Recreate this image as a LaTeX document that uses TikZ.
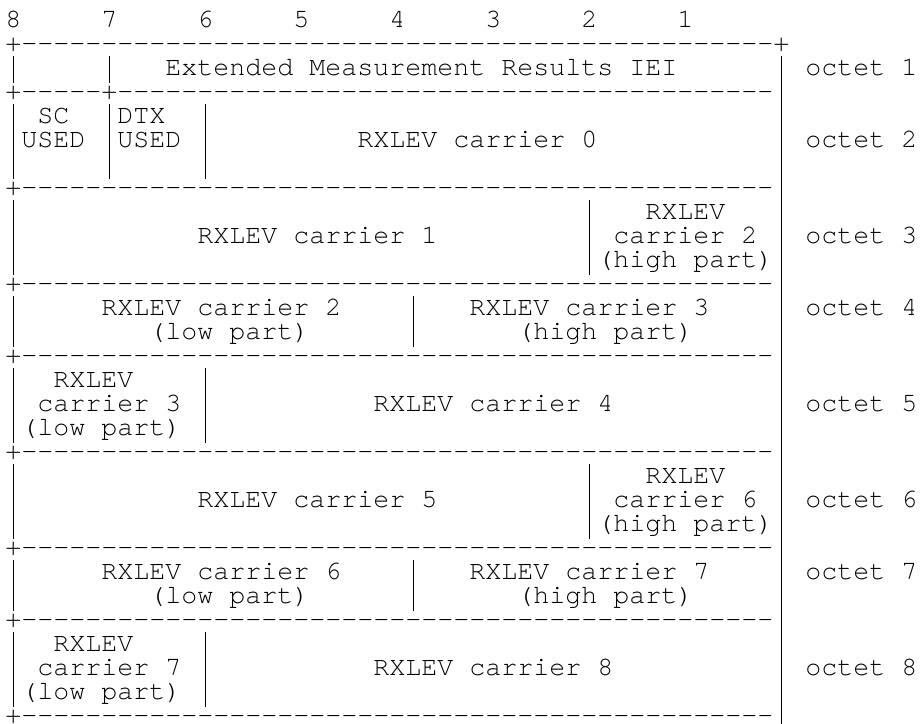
\documentclass[tikz,border=0pt]{standalone}
\usepackage{fontspec}
\setmonofont{texgyrecursor-regular.otf}
\newcommand\dashrun[1]{\ifnum#1>0 -\expandafter\dashrun\expandafter{\the\numexpr#1-1\relax}\fi}
\ExplSyntaxOn
% fixed pitch: every character in a 12pt (16px) cell
\cs_new_protected:Npn \pitchtext #1
  {
    \str_set:Nx \l_tmpa_str {#1}
    \str_map_inline:Nn \l_tmpa_str { \makebox[12pt][c]{##1} }
  }
\ExplSyntaxOff
% text placed on the character grid: name, column, row, text
\newcommand\atcell[4]{\node[asc] (#1) at ({5.3+16*#2},{27.9+24*#3}) {\pitchtext{#4}};}
% vertical wall: column, first row, last row
\newcommand\vwall[3]{\draw[wall] ({13.3+16*#1},{27.9+24*#2-20.3}) -- ({13.3+16*#1},{27.9+24*#3+7});}
\begin{document}
\begin{tikzpicture}[x=0.75pt,y=-0.75pt,
  asc/.style={anchor=base west, inner sep=0pt, outer sep=0pt,
    text height=11pt, text depth=0.5pt,
    font=\ttfamily\fontsize{20}{24}\selectfont, text=black},
  wall/.style={line width=0.8pt, draw=black}]
\fill[white] (0,0) rectangle (922,724);
\useasboundingbox (0,0) rectangle (922,724);
% bit numbers
\atcell{b8}{0}{0}{8}
\atcell{b7}{6}{0}{7}
\atcell{b6}{12}{0}{6}
\atcell{b5}{18}{0}{5}
\atcell{b4}{24}{0}{4}
\atcell{b3}{30}{0}{3}
\atcell{b2}{36}{0}{2}
\atcell{b1}{42}{0}{1}
% separators
\atcell{s1}{0}{1}{+\dashrun{47}+}
\atcell{s3}{0}{3}{+\dashrun{5}+\dashrun{41}}
\atcell{s7}{0}{7}{+\dashrun{47}}
\atcell{s11}{0}{11}{+\dashrun{47}}
\atcell{s14}{0}{14}{+\dashrun{47}}
\atcell{s18}{0}{18}{+\dashrun{47}}
\atcell{s22}{0}{22}{+\dashrun{47}}
\atcell{s25}{0}{25}{+\dashrun{47}}
\atcell{s29}{0}{29}{+\dashrun{47}}
% octet 1
\atcell{iei}{10}{2}{Extended Measurement Results IEI}
\atcell{o1}{50}{2}{octet 1}
% octet 2
\atcell{sc}{2}{4}{SC}
\atcell{scu}{1}{5}{USED}
\atcell{dtx}{7}{4}{DTX}
\atcell{dtxu}{7}{5}{USED}
\atcell{c0}{22}{5}{RXLEV carrier 0}
\atcell{o2}{50}{5}{octet 2}
% octet 3
\atcell{c1}{12}{9}{RXLEV carrier 1}
\atcell{c2ha}{40}{8}{RXLEV}
\atcell{c2hb}{38}{9}{carrier 2}
\atcell{c2hc}{37}{10}{(high part)}
\atcell{o3}{50}{9}{octet 3}
% octet 4
\atcell{c2la}{6}{12}{RXLEV carrier 2}
\atcell{c2lb}{9}{13}{(low part)}
\atcell{c3ha}{29}{12}{RXLEV carrier 3}
\atcell{c3hb}{32}{13}{(high part)}
\atcell{o4}{50}{12}{octet 4}
% octet 5
\atcell{c3la}{3}{15}{RXLEV}
\atcell{c3lb}{2}{16}{carrier 3}
\atcell{c3lc}{1}{17}{(low part)}
\atcell{c4}{23}{16}{RXLEV carrier 4}
\atcell{o5}{50}{16}{octet 5}
% octet 6
\atcell{c5}{12}{20}{RXLEV carrier 5}
\atcell{c6ha}{40}{19}{RXLEV}
\atcell{c6hb}{38}{20}{carrier 6}
\atcell{c6hc}{37}{21}{(high part)}
\atcell{o6}{50}{20}{octet 6}
% octet 7
\atcell{c6la}{6}{23}{RXLEV carrier 6}
\atcell{c6lb}{9}{24}{(low part)}
\atcell{c7ha}{29}{23}{RXLEV carrier 7}
\atcell{c7hb}{32}{24}{(high part)}
\atcell{o7}{50}{23}{octet 7}
% octet 8
\atcell{c7la}{3}{26}{RXLEV}
\atcell{c7lb}{2}{27}{carrier 7}
\atcell{c7lc}{1}{28}{(low part)}
\atcell{c8}{23}{27}{RXLEV carrier 8}
\atcell{o8}{50}{27}{octet 8}
% vertical walls
\vwall{0}{2}{2}
\vwall{6}{2}{2}
\vwall{0}{4}{6}
\vwall{6}{4}{6}
\vwall{12}{4}{6}
\vwall{0}{8}{10}
\vwall{36}{8}{10}
\vwall{0}{12}{13}
\vwall{25}{12}{13}
\vwall{0}{15}{17}
\vwall{12}{15}{17}
\vwall{0}{19}{21}
\vwall{36}{19}{21}
\vwall{0}{23}{24}
\vwall{25}{23}{24}
\vwall{0}{26}{28}
\vwall{12}{26}{28}
\draw[wall] ({13.3+16*48},{27.9+24*2-20.3}) -- ({13.3+16*48},724);
\end{tikzpicture}
\end{document}
